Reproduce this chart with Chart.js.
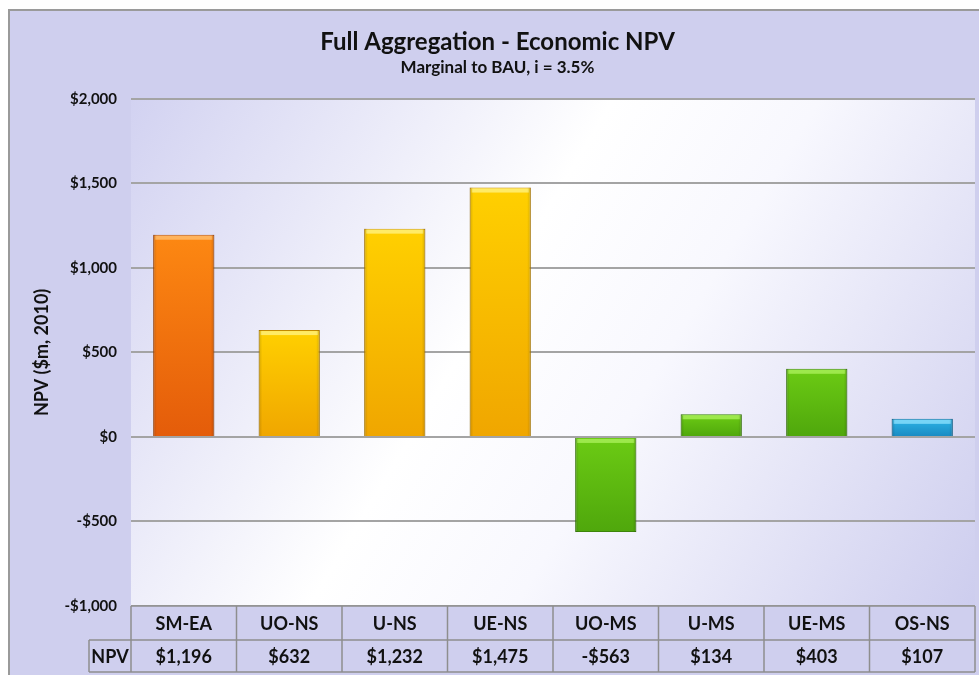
<!DOCTYPE html>
<html>
<head>
<meta charset="utf-8">
<script src="https://cdn.jsdelivr.net/npm/chart.js@4"></script>
<style>
  html, body { margin: 0; padding: 0; background: #ffffff; }
  #wrap { width: 979px; height: 675px; position: relative; }
</style>
</head>
<body>
<div id="wrap"><canvas id="c" width="979" height="675"></canvas></div>
<script>
// ---- data ----
const categories = ['SM-EA', 'UO-NS', 'U-NS', 'UE-NS', 'UO-MS', 'U-MS', 'UE-MS', 'OS-NS'];
const npvValues = [1196, 632, 1232, 1475, -563, 134, 403, 107];
const colorGroups = ['orange', 'gold', 'gold', 'gold', 'green', 'green', 'green', 'blue'];
const tableRowLabel = 'NPV';
const yMin = -1000, yMax = 2000, yStep = 500;

// ---- styles ----
const palette = {
  orange: { top: '#fd8812', bottom: '#e45c0a', border: '#b24e0c', hi: 'rgba(255,190,110,0.8)' },
  gold:   { top: '#ffd000', bottom: '#f0a600', border: '#c48a00', hi: 'rgba(255,240,120,0.85)' },
  green:  { top: '#6ccb14', bottom: '#4fa70c', border: '#3d850a', hi: 'rgba(170,240,90,0.8)' },
  blue:   { top: '#2cb4e6', bottom: '#198ac2', border: '#13709c', hi: 'rgba(130,220,250,0.85)' }
};
const FONT = 'Lato, "Open Sans", "Liberation Sans", sans-serif';
const LAV = '#cfcfee';

function money(v) {
  const s = Math.abs(v).toLocaleString('en-US');
  return (v < 0 ? '-$' : '$') + s;
}

function barGradient(ctx, key) {
  const chart = ctx.chart;
  const ys = chart.scales.y;
  if (!ys || !chart.chartArea) return palette[key].top;
  const v = npvValues[ctx.dataIndex];
  const y0 = ys.getPixelForValue(0), y1 = ys.getPixelForValue(v);
  if (!isFinite(y0) || !isFinite(y1) || y0 === y1) return palette[key].top;
  const g = chart.ctx.createLinearGradient(0, Math.min(y0, y1), 0, Math.max(y0, y1));
  g.addColorStop(0, palette[key].top);
  g.addColorStop(1, palette[key].bottom);
  return g;
}

const bevelPlugin = {
  id: 'bevel',
  afterDatasetsDraw(chart) {
    const c = chart.ctx;
    const meta = chart.getDatasetMeta(0);
    c.save();
    meta.data.forEach((bar, i) => {
      const p = bar.getProps(['x', 'y', 'base', 'width'], true);
      const left = p.x - p.width / 2, right = p.x + p.width / 2;
      const top = Math.min(p.y, p.base), bottom = Math.max(p.y, p.base);
      const key = colorGroups[i];
      // top highlight strip
      c.fillStyle = palette[key].hi;
      c.fillRect(left + 2, top + 1, right - left - 4, Math.min(4, bottom - top - 2));
      // darker side edges
      const g = c.createLinearGradient(left, 0, right, 0);
      g.addColorStop(0, 'rgba(0,0,0,0.16)');
      g.addColorStop(0.06, 'rgba(0,0,0,0)');
      g.addColorStop(0.94, 'rgba(0,0,0,0)');
      g.addColorStop(1, 'rgba(0,0,0,0.16)');
      c.fillStyle = g;
      c.fillRect(left, top, right - left, bottom - top);
    });
    c.restore();
  }
};

const framePlugin = {
  id: 'frame',
  beforeDraw(chart) {
    const c = chart.ctx, a = chart.chartArea;
    c.save();
    c.fillStyle = '#ffffff';
    c.fillRect(0, 0, chart.width, chart.height);
    c.fillStyle = LAV;
    c.fillRect(9, 10, chart.width - 9, chart.height - 10);
    c.strokeStyle = '#9a9a9a';
    c.lineWidth = 2;
    c.beginPath();
    c.moveTo(9, chart.height);
    c.lineTo(9, 10);
    c.lineTo(chart.width, 10);
    c.stroke();
    // plot area gradient
    const g = c.createLinearGradient(a.left, a.top, a.right, a.bottom);
    g.addColorStop(0, '#d2d2f1');
    g.addColorStop(0.42, '#ffffff');
    g.addColorStop(0.6, '#f8f8fe');
    g.addColorStop(1, '#cdcdee');
    c.fillStyle = g;
    c.fillRect(a.left, a.top, a.right - a.left, a.bottom - a.top);
    c.restore();
  },
  afterDraw(chart) {
    // data table under the plot
    const c = chart.ctx, a = chart.chartArea, xs = chart.scales.x;
    const n = categories.length;
    const w = (a.right - a.left) / n;
    const r1 = a.bottom, r2 = a.bottom + 34, r3 = a.bottom + 66;
    const labelLeft = 89;
    c.save();
    c.fillStyle = LAV;
    c.fillRect(a.left, r1, a.right - a.left, r3 - r1);
    c.fillRect(labelLeft, r2, a.left - labelLeft, r3 - r2);
    c.strokeStyle = '#8e8e8e';
    c.lineWidth = 1.5;
    c.beginPath();
    c.moveTo(a.left, r1); c.lineTo(a.right, r1);
    c.moveTo(labelLeft, r2); c.lineTo(a.right, r2);
    c.moveTo(labelLeft, r3); c.lineTo(a.right, r3);
    c.moveTo(labelLeft, r2); c.lineTo(labelLeft, r3);
    for (let i = 0; i <= n; i++) {
      const x = a.left + i * w;
      c.moveTo(x, r1); c.lineTo(x, r3);
    }
    c.stroke();
    c.fillStyle = '#111111';
    c.font = 'bold 18px ' + FONT;
    c.textAlign = 'center';
    c.textBaseline = 'middle';
    categories.forEach((cat, i) => {
      const x = xs.getPixelForValue(i);
      c.fillText(cat, x, (r1 + r2) / 2 + 1);
      c.fillText(money(npvValues[i]), x, (r2 + r3) / 2 + 1);
    });
    c.fillText(tableRowLabel, (labelLeft + a.left) / 2, (r2 + r3) / 2 + 1);
    c.restore();
  }
};

new Chart(document.getElementById('c'), {
  type: 'bar',
  data: {
    labels: categories,
    datasets: [{
      label: 'NPV',
      data: npvValues,
      backgroundColor: (ctx) => barGradient(ctx, colorGroups[ctx.dataIndex]),
      borderColor: colorGroups.map(k => palette[k].border),
      borderWidth: 1,
      categoryPercentage: 1.0,
      barPercentage: 0.58
    }]
  },
  options: {
    responsive: false,
    animation: false,
    layout: { padding: { left: 20, right: 4, top: 0, bottom: 69 } },
    plugins: {
      legend: { display: false },
      tooltip: { enabled: false },
      title: {
        display: true,
        text: 'Full Aggregation - Economic NPV',
        color: '#111111',
        font: { family: FONT, size: 24, weight: 'bold', lineHeight: 1.2 },
        padding: { top: 27.6, bottom: 0 }
      },
      subtitle: {
        display: true,
        text: 'Marginal to BAU, i = 3.5%',
        color: '#111111',
        font: { family: FONT, size: 17, weight: 'bold', lineHeight: 1.2 },
        padding: { top: 1.4, bottom: 20.6 }
      }
    },
    scales: {
      x: { display: false },
      y: {
        min: yMin, max: yMax,
        afterFit(scale) { scale.width = 111; },
        border: { display: false },
        grid: { color: '#a4a4a4', lineWidth: 2, drawTicks: false },
        ticks: {
          stepSize: yStep,
          padding: 14,
          color: '#111111',
          font: { family: FONT, size: 15, weight: 'bold' },
          callback: (v) => money(v)
        },
        title: {
          display: true,
          text: 'NPV ($m, 2010)',
          color: '#111111',
          font: { family: FONT, size: 18, weight: 'bold', lineHeight: 1.2 },
          padding: { top: 11, bottom: 0 }
        }
      }
    }
  },
  plugins: [framePlugin, bevelPlugin]
});
</script>
</body>
</html>
